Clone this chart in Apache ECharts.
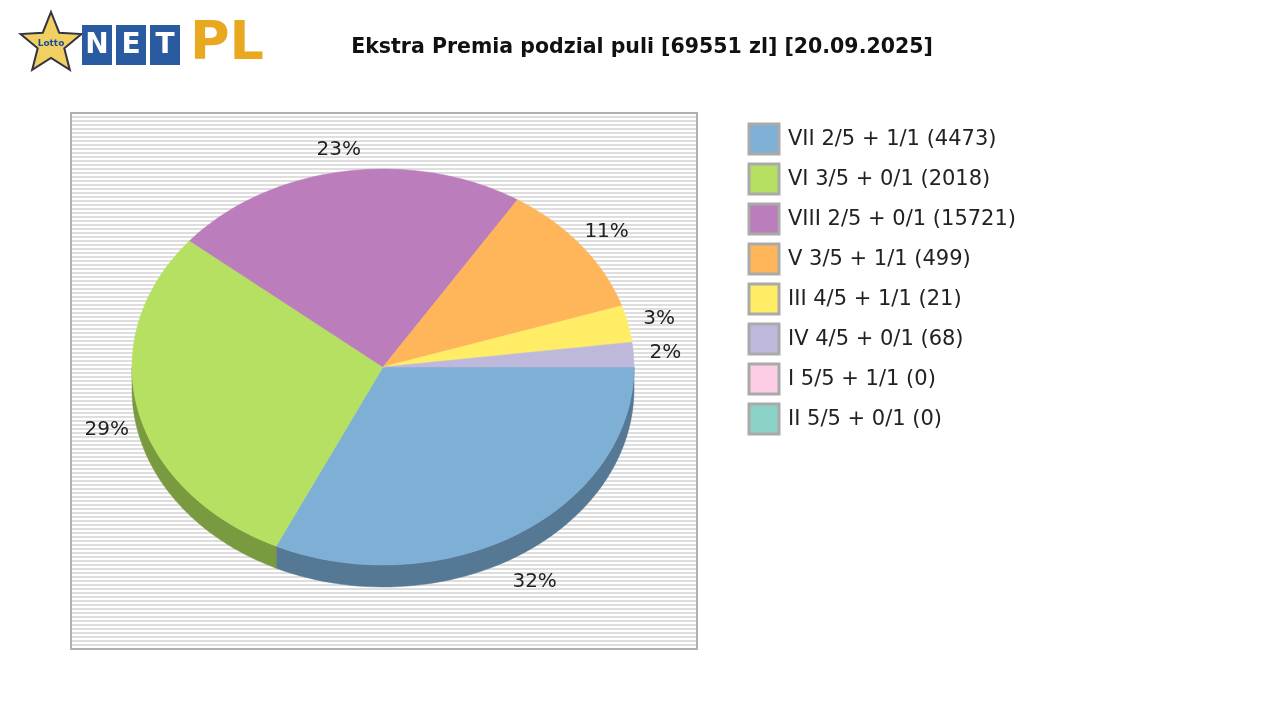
<!DOCTYPE html><html><head><meta charset="utf-8"><script src="https://cdn.jsdelivr.net/npm/echarts@6/dist/echarts.min.js"></script>
<style>body{margin:0}#c{width:1280px;height:720px}</style></head><body><div id="c"></div><script>
const categories=['VII 2/5 + 1/1 (4473)','VI 3/5 + 0/1 (2018)','VIII 2/5 + 0/1 (15721)','V 3/5 + 1/1 (499)','III 4/5 + 1/1 (21)','IV 4/5 + 0/1 (68)','I 5/5 + 1/1 (0)','II 5/5 + 0/1 (0)'];
const shares=[32,29,23,11,3,2,0,0];
const colors=['#7eafd5','#b5e061','#bb7dbb','#ffb55a','#ffee65','#beb9db','#fdcce5','#8bd3c7'];
const sides=['#557894','#7a9a40','#805480','#b07d3c','#b0a445','#837f98','#b08c9e','#5f928a'];
const FF='DejaVu Sans';
const chart=echarts.init(document.getElementById('c'));
const cx=383,cy=367,rx=251,ry=198,depth=22;
const total=shares.reduce((a,b)=>a+b,0);
const cum=[];let s=0;shares.forEach(v=>{cum.push(s);s+=v;});
function pt(a,dy){return [cx+rx*Math.cos(a),cy+ry*Math.sin(a)+(dy||0)];}
const c=document.createElement('canvas');c.width=4;c.height=4;const g=c.getContext('2d');
g.fillStyle='#ffffff';g.fillRect(0,0,4,4);g.fillStyle='#dedede';g.fillRect(0,0,4,2);
const graphics=[
 {type:'rect',shape:{x:71,y:113,width:626,height:536},style:{fill:{image:c,repeat:'repeat'},stroke:'#b0b0b0',lineWidth:2},z:-10},
 {type:'text',style:{text:'Ekstra Premia podzial puli [69551 zl] [20.09.2025]',x:642,y:48,align:'center',verticalAlign:'middle',fontFamily:FF,fontWeight:'bold',fontSize:20.5,fill:'#111'}},
 {type:'polygon',shape:{points:(()=>{const p=[];for(let i=0;i<10;i++){const r=i%2?14:32,a=-Math.PI/2+i*Math.PI/5;p.push([51+r*Math.cos(a),44+r*Math.sin(a)]);}return p;})()},style:{fill:'#f0d060',stroke:'#334',lineWidth:2}},
 {type:'text',style:{text:'Lotto',x:51,y:44,align:'center',verticalAlign:'middle',fontFamily:FF,fontWeight:'bold',fontSize:9,fill:'#1a4a9a'}},
 {type:'text',style:{text:'PL',x:190,y:45,verticalAlign:'middle',fontFamily:FF,fontWeight:'bold',fontSize:54,fill:'#e8a820'}}
];
['N','E','T'].forEach((t,i)=>{graphics.push({type:'rect',shape:{x:82+i*34,y:25,width:30,height:40},style:{fill:'#2a5aa0'}});graphics.push({type:'text',style:{text:t,x:97+i*34,y:46,align:'center',verticalAlign:'middle',fontFamily:FF,fontWeight:'bold',fontSize:28,fill:'#fff'}});});
categories.forEach((n,i)=>{const y=124+i*40;graphics.push({type:'rect',shape:{x:749,y:y,width:30,height:30},style:{fill:colors[i],stroke:'#aaa',lineWidth:3}});graphics.push({type:'text',style:{text:n,x:788,y:y+16,verticalAlign:'middle',fontFamily:FF,fontSize:21,fill:'#222'}});});
chart.setOption({
 animation:false,
 graphic:graphics,
 xAxis:{show:false},yAxis:{show:false},
 series:[{type:'custom',coordinateSystem:'none',data:shares.map((v,i)=>({value:v,name:categories[i]})),
  renderItem:(params,api)=>{
   const i=params.dataIndex,v=shares[i];if(!v)return;
   const a0=cum[i]/total*2*Math.PI,a1=(cum[i]+v)/total*2*Math.PI;
   const children=[];
   const n=60,top=[[cx,cy]];
   for(let k=0;k<=n;k++)top.push(pt(a0+(a1-a0)*k/n));
   const b0=Math.max(a0,0),b1=Math.min(a1,Math.PI);
   if(b1>b0){const up=[],dn=[];for(let k=0;k<=n;k++){const a=b0+(b1-b0)*k/n;up.push(pt(a));dn.unshift(pt(a,depth));}
    children.push({type:'polygon',shape:{points:up.concat(dn)},style:{fill:sides[i],stroke:sides[i],lineWidth:0.5}});}
   children.push({type:'polygon',shape:{points:top},style:{fill:colors[i],stroke:colors[i],lineWidth:0.5}});
   const m=(a0+a1)/2;const lx=cx+(rx+32)*Math.cos(m),ly=cy+(ry+22)*Math.sin(m)+(Math.sin(m)>0?depth*Math.sin(m)+10:0);
   children.push({type:'text',style:{text:v+'%',x:lx,y:ly,align:'center',verticalAlign:'middle',fontFamily:FF,fontSize:20,fill:'#222'}});
   return {type:'group',children};
  }}]
});
</script></body></html>
